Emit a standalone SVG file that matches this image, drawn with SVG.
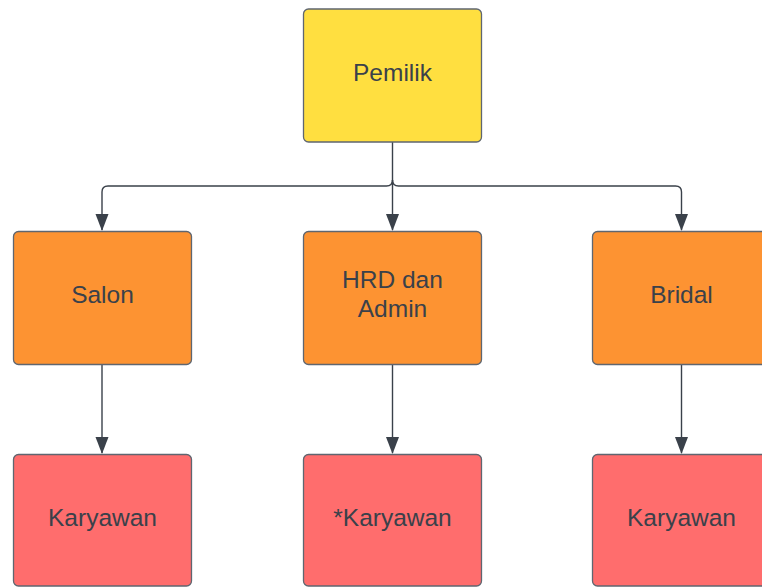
<svg xmlns="http://www.w3.org/2000/svg" width="762" height="587" viewBox="0 0 762 587">
<style>
.box{stroke:#5f6670;stroke-width:1.3}
.y{fill:#ffdf40}
.o{fill:#fd9332}
.r{fill:#ff6d6d}
.t{font-family:"Liberation Sans",Arial,sans-serif;font-size:24.5px;fill:#3a414a;text-anchor:middle;dominant-baseline:central}
.c{fill:none;stroke:#3a414a;stroke-width:1.4}
</style>
<defs>
<marker id="ah" markerUnits="userSpaceOnUse" markerWidth="18" markerHeight="14" refX="16" refY="6.5" orient="auto">
<path d="M0,0 L17,6.5 L0,13 Z" fill="#3a414a"/>
</marker>
</defs>
<g id="connectors">
<path class="c" d="M392.5,142 V180 Q392.5,186 386.5,186 H108 Q102,186 102,192 V230" marker-end="url(#ah)"/>
<path class="c" d="M392.5,180 Q392.5,186 398.5,186 H675.5 Q681.5,186 681.5,192 V230" marker-end="url(#ah)"/>
<path class="c" d="M392.5,180 V230" marker-end="url(#ah)"/>
<path class="c" d="M102,364 V453" marker-end="url(#ah)"/>
<path class="c" d="M392.5,364 V453" marker-end="url(#ah)"/>
<path class="c" d="M681.5,364 V453" marker-end="url(#ah)"/>
</g>
<g id="pemilik"><rect class="box y" x="303.5" y="9" width="178" height="133" rx="5"/><text class="t" x="392.5" y="72">Pemilik</text></g>
<g id="salon"><rect class="box o" x="13.5" y="231.5" width="178" height="133" rx="5"/><text class="t" x="102.5" y="294">Salon</text></g>
<g id="hrd"><rect class="box o" x="303.5" y="231.5" width="178" height="133" rx="5"/><text class="t" x="392.5" y="279">HRD dan</text><text class="t" x="392.5" y="308">Admin</text></g>
<g id="bridal"><rect class="box o" x="592.5" y="231.5" width="178" height="133" rx="5"/><text class="t" x="681.5" y="294">Bridal</text></g>
<g id="karyawan1"><rect class="box r" x="13.5" y="454.5" width="178" height="131.5" rx="5"/><text class="t" x="102.5" y="517">Karyawan</text></g>
<g id="karyawan2"><rect class="box r" x="303.5" y="454.5" width="178" height="131.5" rx="5"/><text class="t" x="392.5" y="517">*Karyawan</text></g>
<g id="karyawan3"><rect class="box r" x="592.5" y="454.5" width="178" height="131.5" rx="5"/><text class="t" x="681.5" y="517">Karyawan</text></g>
</svg>
